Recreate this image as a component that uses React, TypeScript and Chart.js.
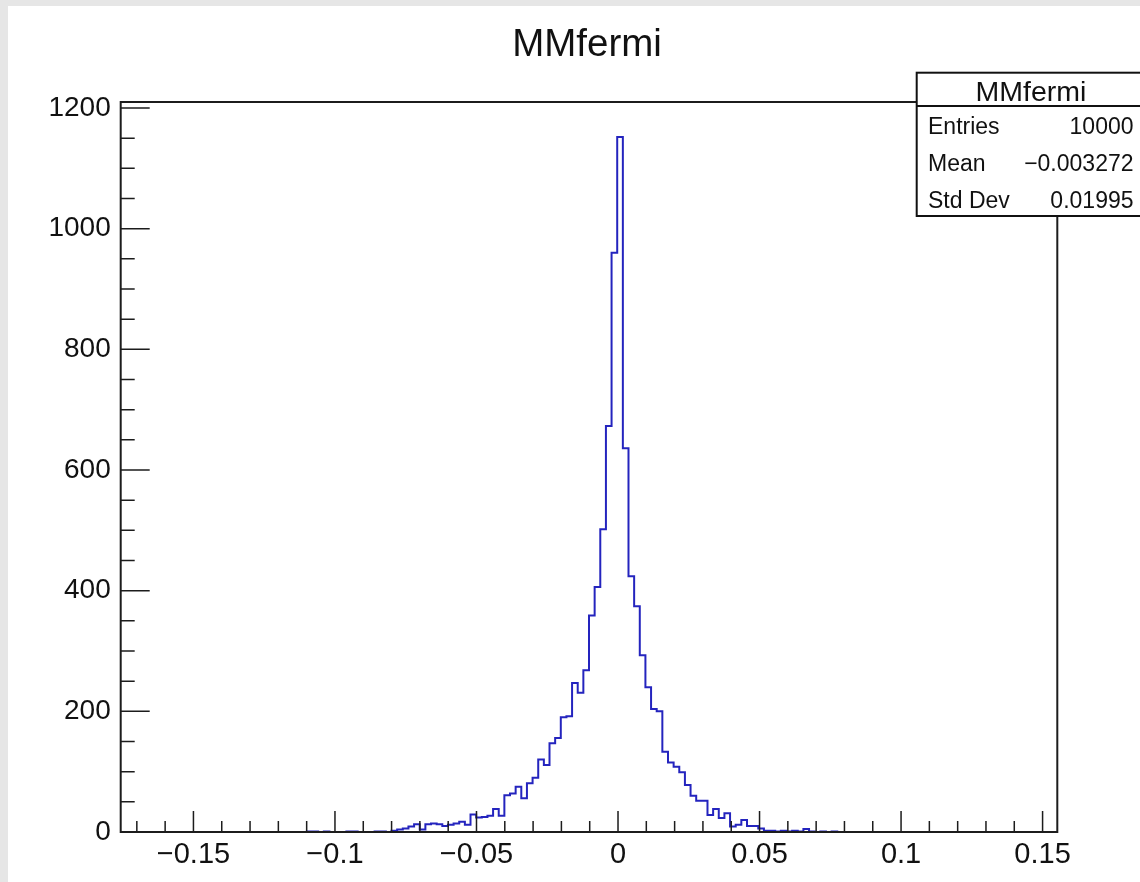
import React, { useEffect, useRef } from 'react';
import { Chart, registerables } from 'chart.js';

Chart.register(...registerables);

// ---- data ----
const TITLE = 'MMfermi';
const X_MIN = -0.1757;
const X_MAX = 0.1552;
const N_BINS = 166;
const Y_MAX = 1210;

const COUNTS: number[] = [
  // bins 0..32
  0, 0, 0, 0, 0, 0, 0, 0, 0, 0, 0, 0, 0, 0, 0, 0, 0, 0, 0, 0, 0, 0, 0, 0, 0, 0, 0, 0, 0, 0, 0, 0, 0,
  // bins 33..126
  1, 1, 0, 1, 0, 0, 0, 1, 1, 0, 0, 0, 1, 1, 0, 2, 4, 6, 9, 13,
  4, 13, 14, 13, 10, 12, 14, 17, 12, 29, 24, 25, 27, 38, 27, 61, 64, 75, 56, 81,
  90, 120, 111, 147, 156, 190, 192, 247, 231, 268, 359, 406, 502, 673, 960, 1152, 636, 424, 374, 293,
  240, 204, 200, 133, 115, 108, 99, 78, 60, 52, 52, 28, 38, 23, 31, 9, 12, 20, 10, 10,
  6, 2, 2, 1, 2, 1, 2, 1, 5, 1, 0, 1, 0, 1,
  // bins 127..165
  0, 0, 0, 0, 0, 0, 0, 0, 0, 0, 0, 0, 0, 0, 0, 0, 0, 0, 0, 0, 0, 0, 0, 0, 0, 0, 0, 0, 0, 0, 0, 0, 0, 0, 0, 0, 0, 0, 0,
];

const X_TICKS = [-0.15, -0.1, -0.05, 0, 0.05, 0.1, 0.15];
const X_TICK_LABELS = ['\u22120.15', '\u22120.1', '\u22120.05', '0', '0.05', '0.1', '0.15'];
const X_MINOR_STEP = 0.01;
const X_MINOR_PER_MAJOR = 5;

const Y_TICKS = [0, 200, 400, 600, 800, 1000, 1200];
const Y_TICK_LABELS = ['0', '200', '400', '600', '800', '1000', '1200'];
const Y_MINOR_STEP = 50;
const Y_MINOR_PER_MAJOR = 4;

const STAT_LABELS = ['Entries', 'Mean', 'Std Dev'];
const STAT_VALUES = ['10000', '\u22120.003272', '0.01995'];

// ---- style ----
const FONT = "'Liberation Sans', Arial, Helvetica, sans-serif";
const LINE_COLOR = 'rgb(36,36,190)';
const AXIS_COLOR = '#1c1c1c';
const CANVAS_W = 1132;
const CANVAS_H = 876;

const rootPlugin = {
  id: 'rootDecor',
  afterDatasetsDraw(chart: any) {
    const ctx: CanvasRenderingContext2D = chart.ctx;
    const xs = chart.scales.x;
    const ys = chart.scales.y;
    const { left, right, top, bottom } = chart.chartArea;
    ctx.save();
    ctx.strokeStyle = AXIS_COLOR;
    ctx.lineWidth = 1.5;
    ctx.beginPath();
    // x ticks (inward)
    const i0 = Math.ceil(X_MIN / X_MINOR_STEP - 1e-9);
    const i1 = Math.floor(X_MAX / X_MINOR_STEP + 1e-9);
    for (let i = i0; i <= i1; i++) {
      const px = xs.getPixelForValue(i * X_MINOR_STEP);
      const len = i % X_MINOR_PER_MAJOR === 0 ? 21 : 11;
      ctx.moveTo(px, bottom);
      ctx.lineTo(px, bottom - len);
    }
    // y ticks (inward)
    const j1 = Math.floor(Y_MAX / Y_MINOR_STEP);
    for (let j = 0; j <= j1; j++) {
      const py = ys.getPixelForValue(j * Y_MINOR_STEP);
      const len = j % Y_MINOR_PER_MAJOR === 0 ? 29 : 14;
      ctx.moveTo(left, py);
      ctx.lineTo(left + len, py);
    }
    ctx.stroke();
    // frame
    ctx.lineWidth = 2;
    ctx.strokeRect(left, top, right - left, bottom - top);

    // title
    ctx.fillStyle = '#111';
    ctx.textBaseline = 'alphabetic';
    ctx.textAlign = 'center';
    ctx.font = `38.5px ${FONT}`;
    ctx.fillText(TITLE, 579, 50);

    // stats box
    const bx = 908.7;
    const by = 66.7;
    const bw = 240;
    const bh = 143.3;
    ctx.fillStyle = '#ffffff';
    ctx.fillRect(bx, by, bw, bh);
    ctx.lineWidth = 2;
    ctx.strokeStyle = '#111';
    ctx.strokeRect(bx, by, bw, bh);
    ctx.beginPath();
    ctx.moveTo(bx, by + 33.3);
    ctx.lineTo(bx + bw, by + 33.3);
    ctx.stroke();
    ctx.fillStyle = '#111';
    ctx.textAlign = 'center';
    ctx.font = `28.5px ${FONT}`;
    ctx.fillText(TITLE, 1023, 94.5);
    ctx.font = `23px ${FONT}`;
    const baselines = [128, 164.7, 201.5];
    for (let k = 0; k < STAT_LABELS.length; k++) {
      ctx.textAlign = 'left';
      ctx.fillText(STAT_LABELS[k], 920, baselines[k]);
      ctx.textAlign = 'right';
      ctx.fillText(STAT_VALUES[k], 1125.5, baselines[k]);
    }
    ctx.restore();
  },
};

export default function App() {
  const ref = useRef<HTMLCanvasElement>(null);
  useEffect(() => {
    if (!ref.current) return;
    const w = (X_MAX - X_MIN) / N_BINS;
    const pts = COUNTS.map((c, k) => ({ x: X_MIN + k * w, y: c }));
    pts.push({ x: X_MAX, y: 0 });
    const chart = new Chart(ref.current, {
      type: 'line',
      data: {
        datasets: [
          {
            data: pts,
            stepped: 'before',
            borderColor: LINE_COLOR,
            borderWidth: 2,
            pointRadius: 0,
            fill: false,
          },
        ],
      },
      options: {
        responsive: false,
        animation: false,
        events: [],
        layout: { padding: { left: 0, right: 82.7, top: 96, bottom: 0 } },
        plugins: {
          legend: { display: false },
          tooltip: { enabled: false },
          title: { display: false },
        },
        scales: {
          x: {
            type: 'linear',
            min: X_MIN,
            max: X_MAX,
            grid: { display: false, drawTicks: false },
            border: { display: false },
            afterBuildTicks: (s: any) => {
              s.ticks = X_TICKS.map((v) => ({ value: v }));
            },
            afterFit: (s: any) => {
              s.height = 50;
            },
            ticks: {
              autoSkip: false,
              maxRotation: 0,
              minRotation: 0,
              padding: 6,
              color: '#111',
              font: { family: FONT, size: 29 },
              callback: (v: any) => X_TICK_LABELS[X_TICKS.indexOf(Number(v))] ?? '',
            },
          },
          y: {
            type: 'linear',
            min: 0,
            max: Y_MAX,
            grid: { display: false, drawTicks: false },
            border: { display: false },
            afterBuildTicks: (s: any) => {
              s.ticks = Y_TICKS.map((v) => ({ value: v }));
            },
            afterFit: (s: any) => {
              s.width = 112.7;
            },
            ticks: {
              autoSkip: false,
              padding: 10,
              color: '#111',
              font: { family: FONT, size: 28 },
              callback: (v: any) => Y_TICK_LABELS[Y_TICKS.indexOf(Number(v))] ?? '',
            },
          },
        },
      },
      plugins: [rootPlugin],
    } as any);
    return () => chart.destroy();
  }, []);

  return (
    <div
      style={{
        position: 'fixed',
        left: 0,
        top: 0,
        width: 1140,
        height: 882,
        background: '#e6e6e6',
        overflow: 'hidden',
      }}
    >
      <div style={{ position: 'absolute', left: 8, top: 6, width: CANVAS_W, height: CANVAS_H, background: '#fff' }}>
        <canvas ref={ref} width={CANVAS_W} height={CANVAS_H} style={{ display: 'block', width: CANVAS_W, height: CANVAS_H }} />
      </div>
    </div>
  );
}
